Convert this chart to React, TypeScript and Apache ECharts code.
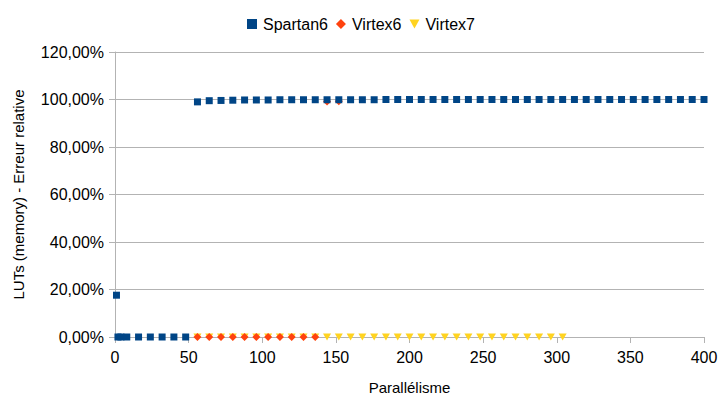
import React, { useEffect, useRef } from "react";
import * as echarts from "echarts";

const spartan6X = [1, 2, 4, 8, 16, 24, 32, 40, 48, 56, 64, 72, 80, 88, 96, 104, 112, 120, 128, 136, 144, 152, 160, 168, 176, 184, 192, 200, 208, 216, 224, 232, 240, 248, 256, 264, 272, 280, 288, 296, 304, 312, 320, 328, 336, 344, 352, 360, 368, 376, 384, 392, 400];
const spartan6Y = [17.6, 0, 0, 0, 0, 0, 0, 0, 0, 99.0, 99.5, 99.6, 99.7, 99.8, 99.8, 99.8, 99.9, 99.9, 99.9, 99.9, 99.9, 99.9, 99.9, 99.9, 99.9, 100, 100, 100, 100, 100, 100, 100, 100, 100, 100, 100, 100, 100, 100, 100, 100, 100, 100, 100, 100, 100, 100, 100, 100, 100, 100, 100, 100];

const virtex6X = [56, 64, 72, 80, 88, 96, 104, 112, 120, 128, 136, 144, 152];
const virtex6Y = [0, 0, 0, 0, 0, 0, 0, 0, 0, 0, 0, 99.2, 99.3];

const virtex7X = [56, 64, 72, 80, 88, 96, 104, 112, 120, 128, 136, 144, 152, 160, 168, 176, 184, 192, 200, 208, 216, 224, 232, 240, 248, 256, 264, 272, 280, 288, 296, 304];
const virtex7Y = [0, 0, 0, 0, 0, 0, 0, 0, 0, 0, 0, 0, 0, 0, 0, 0, 0, 0, 0, 0, 0, 0, 0, 0, 0, 0, 0, 0, 0, 0, 0, 0];

const seriesNames = ["Spartan6", "Virtex6", "Virtex7"];
const colors = ["#004586", "#ff420e", "#ffd320"];

const zip = (xs: number[], ys: number[]) => xs.map((x, i) => [x, ys[i]]);

const triDown = "path://M0,0L10,0L5,9Z";
const FONT = "Liberation Sans, Arial, sans-serif";

export default function App() {
  const ref = useRef<HTMLDivElement>(null);
  useEffect(() => {
    const chart = echarts.init(ref.current!, null, { renderer: "svg" });
    chart.setOption({
      animation: false,
      backgroundColor: "#ffffff",
      textStyle: { fontFamily: FONT },
      legend: {
        top: 11,
        left: "center",
        itemWidth: 10,
        itemHeight: 10,
        itemGap: 8,
        textStyle: { fontSize: 16, color: "#000", fontFamily: FONT, padding: [0, 0, 0, 1] },
        data: [
          { name: seriesNames[0], icon: "rect" },
          { name: seriesNames[1], icon: "diamond" },
          { name: seriesNames[2], icon: triDown },
        ],
      },
      grid: { left: 115, right: 18, top: 52, bottom: 64 },
      xAxis: {
        type: "value",
        min: 0,
        max: 400,
        interval: 50,
        name: "Parallélisme",
        nameLocation: "middle",
        nameGap: 43,
        nameTextStyle: { fontSize: 15, color: "#000", fontFamily: FONT },
        axisLine: { lineStyle: { color: "#b3b3b3" } },
        axisTick: { show: true, length: 6, lineStyle: { color: "#b3b3b3" } },
        axisLabel: { fontSize: 16, color: "#000", margin: 12, fontFamily: FONT },
        splitLine: { show: false },
      },
      yAxis: {
        type: "value",
        min: 0,
        max: 120,
        interval: 20,
        name: "LUTs (memory) - Erreur relative",
        nameLocation: "middle",
        nameGap: 89,
        nameRotate: 90,
        nameTextStyle: { fontSize: 15, color: "#000", fontFamily: FONT },
        axisLine: { show: true, lineStyle: { color: "#b3b3b3" } },
        axisTick: { show: true, length: 6, lineStyle: { color: "#b3b3b3" } },
        axisLabel: {
          fontSize: 16,
          color: "#000",
          margin: 11,
          fontFamily: FONT,
          formatter: (v: number) => v.toFixed(2).replace(".", ",") + "%",
        },
        splitLine: { show: true, lineStyle: { color: "#b3b3b3" } },
      },
      series: [
        {
          name: seriesNames[0],
          type: "scatter",
          z: 4,
          symbol: "rect",
          symbolSize: 7,
          itemStyle: { color: colors[0], opacity: 1 },
          data: zip(spartan6X, spartan6Y),
        },
        {
          name: seriesNames[1],
          type: "scatter",
          z: 3,
          symbol: "diamond",
          symbolSize: 8,
          itemStyle: { color: colors[1], opacity: 1 },
          data: zip(virtex6X, virtex6Y),
        },
        {
          name: seriesNames[2],
          type: "scatter",
          z: 2,
          symbol: triDown,
          symbolSize: [8, 7],
          itemStyle: { color: colors[2], opacity: 1 },
          data: zip(virtex7X, virtex7Y),
        },
      ],
    });
    return () => chart.dispose();
  }, []);
  return <div ref={ref} style={{ width: 722, height: 401, position: "absolute", left: 0, top: 0 }} />;
}
